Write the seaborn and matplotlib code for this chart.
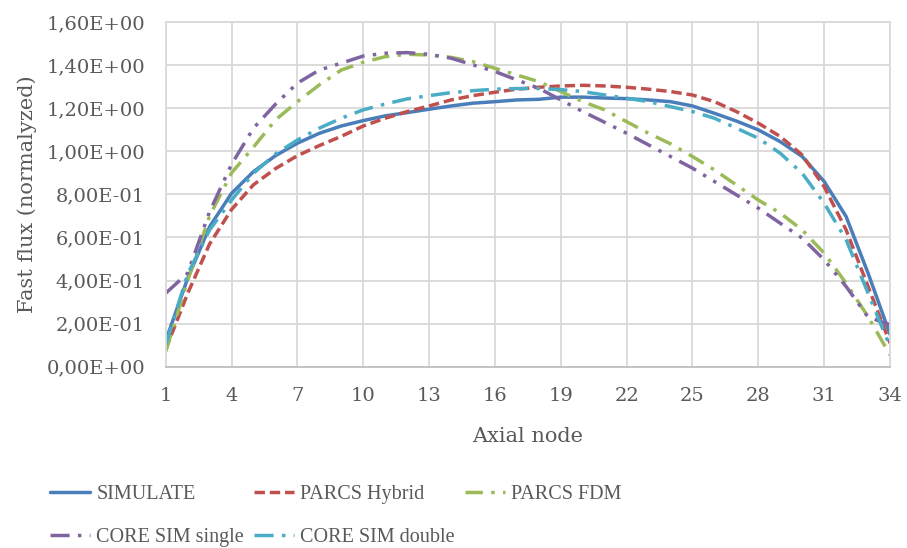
import numpy as np
import pandas as pd
import matplotlib
matplotlib.use("Agg")
import matplotlib.pyplot as plt
import seaborn as sns
from matplotlib.ticker import FuncFormatter

# ────────── data ──────────────────────────────────────────────────────────────
nodes = list(range(1, 35))

simulate = [0.12, 0.41, 0.65, 0.805, 0.906, 0.98, 1.038, 1.084, 1.118, 1.143,
            1.165, 1.18, 1.196, 1.211, 1.224, 1.231, 1.239, 1.242, 1.252, 1.252,
            1.248, 1.245, 1.239, 1.231, 1.211, 1.177, 1.141, 1.10, 1.045, 0.976,
            0.86, 0.697, 0.434, 0.15]

parcs_hybrid = [0.08, 0.34, 0.57, 0.73, 0.845, 0.92, 0.98, 1.027, 1.07, 1.118,
                1.154, 1.185, 1.211, 1.239, 1.259, 1.275, 1.289, 1.298, 1.304, 1.307,
                1.304, 1.298, 1.289, 1.278, 1.262, 1.231, 1.185, 1.131, 1.069, 0.983,
                0.836, 0.635, 0.372, 0.109]

parcs_fdm = [0.07, 0.40, 0.70, 0.90, 1.02, 1.146, 1.231, 1.309, 1.378, 1.414,
             1.44, 1.451, 1.448, 1.437, 1.417, 1.386, 1.355, 1.324, 1.278, 1.231,
             1.193, 1.138, 1.084, 1.035, 0.976, 0.914, 0.844, 0.774, 0.713, 0.635,
             0.527, 0.387, 0.232, 0.054]

coresim_single = [0.341, 0.434, 0.72, 0.94, 1.108, 1.219, 1.317, 1.378, 1.41, 1.443,
                  1.456, 1.459, 1.451, 1.433, 1.402, 1.371, 1.332, 1.293, 1.239, 1.185,
                  1.135, 1.084, 1.03, 0.976, 0.922, 0.86, 0.798, 0.736, 0.666, 0.597,
                  0.496, 0.372, 0.23, 0.195]

coresim_double = [0.10, 0.43, 0.635, 0.774, 0.898, 0.988, 1.053, 1.108, 1.154, 1.193,
                  1.22, 1.244, 1.259, 1.273, 1.282, 1.289, 1.292, 1.292, 1.287, 1.278,
                  1.262, 1.247, 1.231, 1.208, 1.185, 1.154, 1.108, 1.061, 0.991, 0.898,
                  0.759, 0.589, 0.341, 0.093]

series_names = ["SIMULATE", "PARCS Hybrid", "PARCS FDM", "CORE SIM single", "CORE SIM double"]
series_vals = [simulate, parcs_hybrid, parcs_fdm, coresim_single, coresim_double]
x_ticks = [1, 4, 7, 10, 13, 16, 19, 22, 25, 28, 31, 34]

# ────────── styles ────────────────────────────────────────────────────────────
palette = {
    "SIMULATE": "#4A7EBB",
    "PARCS Hybrid": "#C0504D",
    "PARCS FDM": "#9BBB59",
    "CORE SIM single": "#8064A2",
    "CORE SIM double": "#4BACC6",
}
dashes = {
    "SIMULATE": "",
    "PARCS Hybrid": (3, 1.4),
    "PARCS FDM": (5, 2.4, 1, 2.4),
    "CORE SIM single": (5.5, 2.4, 1, 2.4, 1, 2.4),
    "CORE SIM double": (5.5, 2.4, 1, 2.4),
}

TEXT = "#595959"
GRID = "#D9D9D9"


def to_frame() -> pd.DataFrame:
    records = [
        {"node": n, "flux": v, "series": name}
        for name, vals in zip(series_names, series_vals)
        for n, v in zip(nodes, vals)
    ]
    return pd.DataFrame.from_records(records)


def main() -> None:
    sns.set_theme(style="whitegrid")
    plt.rcParams["font.family"] = ["DejaVu Serif"]

    df = to_frame()
    fig = plt.figure(figsize=(9.07, 5.48), dpi=100)
    ax = fig.add_axes([0.1827, 0.331, 0.7986, 0.6284])

    sns.lineplot(
        data=df, x="node", y="flux",
        hue="series", style="series",
        hue_order=series_names, style_order=series_names,
        palette=palette, dashes=dashes,
        linewidth=2.5, ax=ax, legend=True,
    )

    ax.set_xlim(1, 34)
    ax.set_ylim(0, 1.6)
    ax.set_xticks(x_ticks)
    ax.set_yticks(np.arange(0, 1.61, 0.2))
    ax.yaxis.set_major_formatter(FuncFormatter(lambda v, _: f"{v:.2E}".replace(".", ",")))
    ax.tick_params(axis="both", length=0, pad=15, labelsize=14, labelcolor=TEXT)
    ax.grid(True, color=GRID, linewidth=1.3)
    for side, sp in ax.spines.items():
        sp.set_color(GRID)
        sp.set_linewidth(1.3)
    ax.spines["bottom"].set_color("#BFBFBF")

    ax.set_xlabel("Axial node", fontsize=15, color=TEXT)
    ax.set_ylabel("Fast flux (normalyzed)", fontsize=15, color=TEXT)
    ax.xaxis.set_label_coords(0.5, -0.175)
    ax.yaxis.set_label_coords(-0.178, 0.5)

    # legend filled row by row: matplotlib fills columns, so reorder
    handles, labels = ax.get_legend_handles_labels()
    ax.get_legend().remove()
    lookup = dict(zip(labels, handles))
    order = ["SIMULATE", "CORE SIM single", "PARCS Hybrid", "CORE SIM double", "PARCS FDM"]
    fig.legend(
        [lookup[k] for k in order], order, ncol=3, frameon=False,
        loc="center left", bbox_to_anchor=(0.035, 0.058),
        prop={"family": "Liberation Serif", "size": 14.5}, labelcolor=TEXT,
        handlelength=2.0, handletextpad=0.3,
        columnspacing=0.5, labelspacing=1.2,
    )

    fig.savefig("out.png", dpi=100)
    plt.close(fig)


if __name__ == "__main__":
    main()
